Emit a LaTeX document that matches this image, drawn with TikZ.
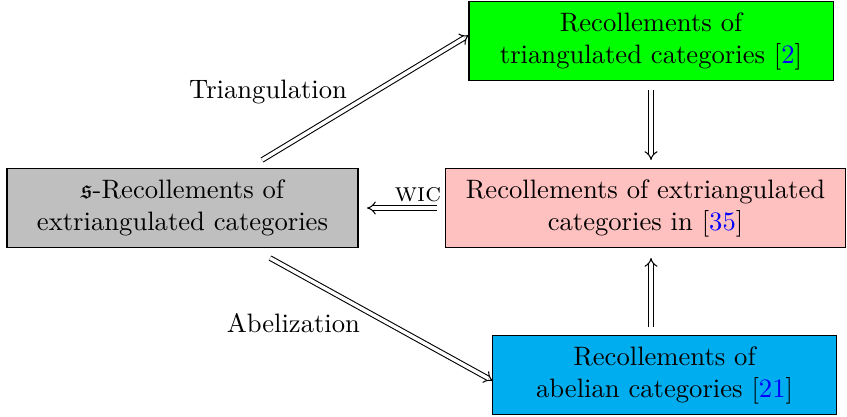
\documentclass[tikz,border=0pt]{standalone}
\usepackage{amssymb}
\usetikzlibrary{arrows.meta}
\definecolor{boxgreen}{RGB}{0,255,0}
\definecolor{boxpink}{RGB}{255,192,192}
\definecolor{boxgray}{RGB}{191,191,191}
\definecolor{boxblue}{RGB}{0,174,239}
\definecolor{citeblue}{RGB}{0,0,255}
\newcommand{\mycite}[1]{[\textcolor{citeblue}{#1}]}
\begin{document}
\begin{tikzpicture}[x=0.3755pt,y=-0.3755pt,
  box/.style={draw=black, line width=0.4pt, align=center, inner sep=0pt, minimum height=30pt},
  dbl/.style={double, double distance=1.3pt, -{Implies[length=2.8pt,width=6pt]}, line width=0.4pt}]
\useasboundingbox (0,0) rectangle (847,416);
\node[box, fill=boxgreen, minimum width=136.7pt] (tri) at (651,41) {Recollements of\\ triangulated categories \mycite{2}};
\node[box, fill=boxpink, minimum width=150.2pt] (ext) at (645.5,208) {Recollements of extriangulated\\ categories in \mycite{35}};
\node[box, fill=boxgray, minimum width=131.8pt] (srec) at (182.5,208) {$\mathfrak{s}$-Recollements of\\ extriangulated categories};
\node[box, fill=boxblue, minimum width=129.5pt] (abe) at (664.5,375) {Recollements of\\ abelian categories \mycite{21}};
\coordinate (t1) at (262,160);
\coordinate (t2) at (469,35);
\coordinate (a1) at (270,258);
\coordinate (a2) at (493,381);
\draw[dbl] (t1) -- node[pos=0.4, anchor=south east, inner sep=1pt, yshift=1pt, xshift=2pt] {Triangulation} (t2);
\draw[dbl] (a1) -- node[pos=0.4, anchor=north east, inner sep=1pt, yshift=-1pt, xshift=1.5pt] {Abelization} (a2);
\draw[dbl] (651,90) -- (651,160);
\draw[dbl] (651,327) -- (651,258);
\draw[dbl] (437,208) -- node[above, inner sep=2pt, xshift=6pt] {\textsc{wic}} (367,208);
\end{tikzpicture}
\end{document}
